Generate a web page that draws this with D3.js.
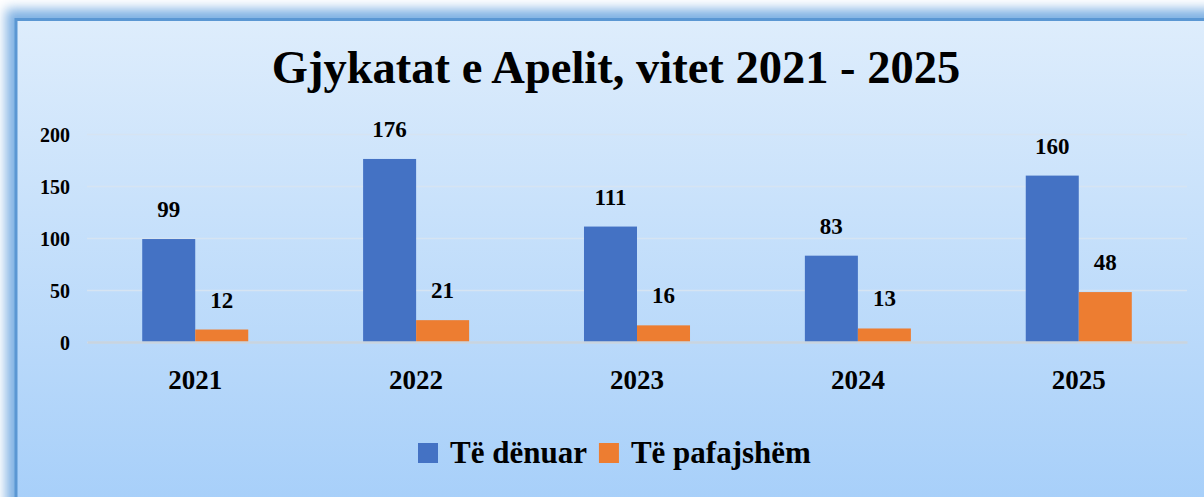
<!DOCTYPE html>
<html>
<head>
<meta charset="utf-8">
<script src="https://cdn.jsdelivr.net/npm/d3@7"></script>
<style>
  body { margin: 0; background: #ffffff; }
  svg { display: block; }
  text { font-family: "Liberation Serif", "Times New Roman", serif; font-weight: bold; fill: #000; }
</style>
</head>
<body>
<svg class="svgChart"></svg>
<script>
// chart data
var years = ['2021', '2022', '2023', '2024', '2025'];
var seriesNames = ['Të dënuar', 'Të pafajshëm'];
var denuar = [99, 176, 111, 83, 160];
var pafajshem = [12, 21, 16, 13, 48];
var yTicks = [0, 50, 100, 150, 200];
var colors = ['#4472c4', '#ed7d31'];
var chartTitle = 'Gjykatat e Apelit, vitet 2021 - 2025';

var W = 1204, H = 497;
var margin = { top: 134, right: 16, bottom: 155, left: 87 };
var width = 1187 - margin.left;
var height = 342 - margin.top;

var svg = d3.select('.svgChart')
  .attr('width', W)
  .attr('height', H);

var defs = svg.append('defs');

var bg = defs.append('linearGradient')
    .attr('id', 'bgGrad')
    .attr('x1', 0).attr('y1', 0).attr('x2', 0).attr('y2', 1);
bg.append('stop').attr('offset', '0%').attr('stop-color', '#deedfc');
bg.append('stop').attr('offset', '100%').attr('stop-color', '#a1ccf9');

var glow = defs.append('filter')
    .attr('id', 'glow')
    .attr('x', '-10%').attr('y', '-10%')
    .attr('width', '120%').attr('height', '120%');
glow.append('feGaussianBlur').attr('stdDeviation', 6);

// frame: soft shadow, then the panel with its border
svg.append('rect')
    .attr('x', 6).attr('y', 9)
    .attr('width', W + 40).attr('height', H + 40)
    .attr('fill', '#7fb1e3')
    .attr('filter', 'url(#glow)');

svg.append('rect')
    .attr('x', 16).attr('y', 19.5)
    .attr('width', W + 40).attr('height', H + 40)
    .attr('fill', 'url(#bgGrad)')
    .attr('stroke', '#5b97d3')
    .attr('stroke-width', 3);

// title
svg.append('text')
    .attr('class', 'chartTitle')
    .attr('x', 616)
    .attr('y', 83)
    .attr('text-anchor', 'middle')
    .style('font-size', '46.5px')
    .text(chartTitle);

var g = svg.append('g')
    .attr('transform', 'translate(' + margin.left + ',' + margin.top + ')');

var data = years.map(function(y, i) {
  return { year: y, values: [denuar[i], pafajshem[i]] };
});

var xScale = d3.scaleBand()
    .domain(years)
    .range([0, width])
    .paddingInner(0.52)
    .paddingOuter(0.25);

var x1 = d3.scaleBand()
    .domain(d3.range(seriesNames.length))
    .range([0, xScale.bandwidth()]);

var yScale = d3.scaleLinear()
    .domain([0, 200])
    .range([height, 0]);

// gridlines + y labels
var yAxis = d3.axisLeft(yScale)
    .tickValues(yTicks)
    .tickSize(-width)
    .tickPadding(17);

g.append('g')
    .attr('class', 'yAxis')
    .call(yAxis)
    .call(function(a) {
      a.select('.domain').remove();
      a.selectAll('.tick line')
        .attr('stroke', '#d6e4f2')
        .attr('stroke-width', 1.5);
      a.selectAll('.tick text')
        .style('font-size', '20px')
        .style('font-family', '"Liberation Serif", serif')
        .style('font-weight', 'bold')
        .attr('fill', '#000')
        .attr('dy', '0.36em');
    });

// bars
var groups = g.append('g')
    .attr('class', 'chart')
  .selectAll('g')
  .data(data)
  .enter()
  .append('g')
    .attr('transform', function(d) { return 'translate(' + xScale(d.year) + ',0)'; });

groups.selectAll('rect')
  .data(function(d) { return d.values; })
  .enter()
  .append('rect')
    .attr('x', function(d, i) { return x1(i); })
    .attr('y', function(d) { return yScale(d); })
    .attr('width', x1.bandwidth())
    .attr('height', function(d) { return height - yScale(d); })
    .attr('fill', function(d, i) { return colors[i]; });

groups.selectAll('text')
  .data(function(d) { return d.values; })
  .enter()
  .append('text')
    .attr('x', function(d, i) { return x1(i) + x1.bandwidth() / 2; })
    .attr('y', function(d) { return yScale(d) - 22; })
    .attr('text-anchor', 'middle')
    .style('font-size', '23px')
    .text(function(d) { return d; });

// x axis baseline + labels
var xAxis = d3.axisBottom(xScale).tickSize(0).tickPadding(28);

g.append('g')
    .attr('class', 'xAxis')
    .attr('transform', 'translate(0,' + height + ')')
    .call(xAxis)
    .call(function(a) {
      a.select('.domain')
        .attr('stroke', '#c9d4df')
        .attr('stroke-width', 2.5);
      a.selectAll('.tick text')
        .style('font-size', '27px')
        .style('font-family', '"Liberation Serif", serif')
        .style('font-weight', 'bold')
        .attr('fill', '#000')
        .attr('dy', '0.71em');
    });

// legend
var legend = svg.append('g')
    .attr('class', 'legend')
    .attr('transform', 'translate(418,443)');

var lx = 0;
seriesNames.forEach(function(name, i) {
  var item = legend.append('g').attr('transform', 'translate(' + lx + ',0)');
  item.append('rect')
      .attr('width', 20).attr('height', 20)
      .attr('fill', colors[i]);
  var t = item.append('text')
      .attr('x', 32)
      .attr('y', 20)
      .style('font-size', '31px')
      .text(name);
  lx += 32 + t.node().getComputedTextLength() + 12;
});
</script>
</body>
</html>
